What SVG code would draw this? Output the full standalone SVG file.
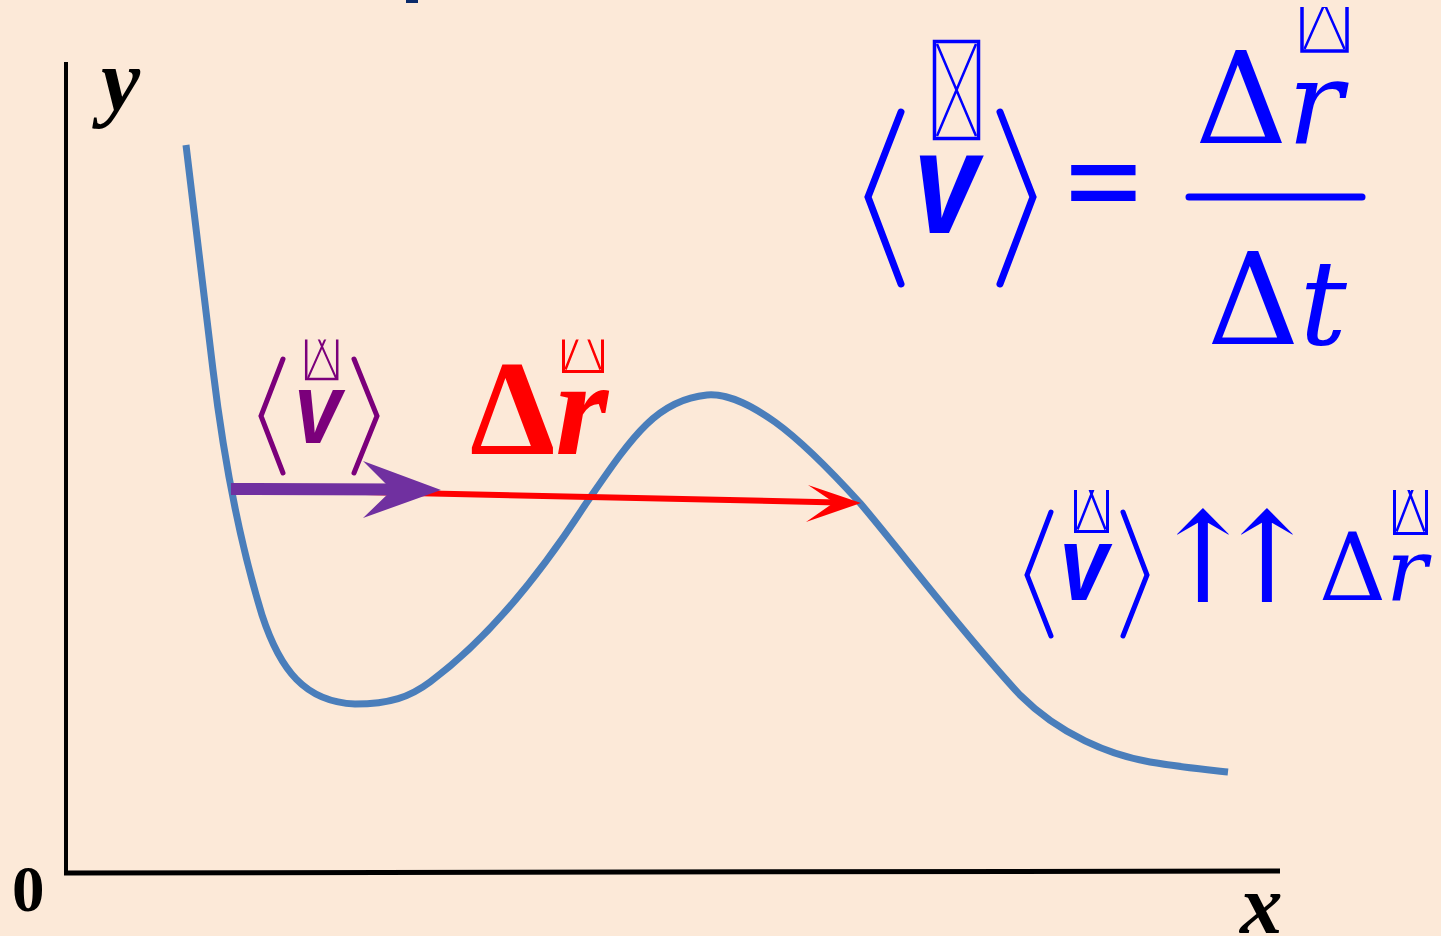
<svg xmlns="http://www.w3.org/2000/svg" width="1441" height="936" viewBox="0 0 1441 936">
<style>
.serif{font-family:"Liberation Serif",serif}
.math{font-family:"DejaVu Serif",serif}
.sans{font-family:"Liberation Sans",sans-serif}
.brk{fill:none;stroke-linecap:round;stroke-linejoin:miter}
.tofu{fill:none}
</style>
<defs>
<clipPath id="cpTop"><rect x="0" y="7" width="1441" height="929"/></clipPath>
<clipPath id="cpMid"><rect x="0" y="339.5" width="1441" height="600"/></clipPath>
<clipPath id="cpRight"><rect x="0" y="490" width="1441" height="446"/></clipPath>
</defs>
<rect width="1441" height="936" fill="#FCE9D8"/>
<rect x="406" y="0" width="12" height="3" fill="#0A2A6A"/>

<g id="axes" stroke="#000" fill="none">
<line x1="66" y1="62" x2="66" y2="874" stroke-width="4"/>
<line x1="64" y1="873" x2="1280" y2="871" stroke-width="5"/>
</g>
<g id="axis-labels" fill="#000">
<text class="serif" x="101" y="110" font-size="88" font-weight="bold" font-style="italic">y</text>
<text class="serif" x="12" y="911" font-size="65" font-weight="bold">0</text>
<text class="serif" x="1240" y="933" font-size="85" font-weight="bold" font-style="italic">x</text>
</g>

<g id="curve">
<path d="M186,145 L213,370 C222,445 236,530 262,615 C280,670 305,702 355,704 C390,704 410,697 430,682 C480,645 530,590 585,505 C630,440 655,400 707,395 C730,393 755,408 775,422 C800,440 830,470 860,503 C900,550 960,630 1020,695 C1060,735 1110,755 1150,762 C1180,767 1210,770 1228,772" fill="none" stroke="#4A7EBB" stroke-width="7"/>
</g>

<g id="connectors">
<g id="dr-arrow">
<line x1="232" y1="489" x2="838" y2="502.5" stroke="#FF0000" stroke-width="6"/>
<polygon points="861,503 808,485 834,502.5 806,522" fill="#FF0000"/>
</g>
<g id="v-arrow">
<line x1="231" y1="489" x2="400" y2="489.5" stroke="#7030A0" stroke-width="12"/>
<polygon points="441,490 363,461 392,490 363,518" fill="#7030A0"/>
</g>
</g>

<g id="label-v-purple">
<path class="brk" d="M283,359 L261,416 L283,473 M354,359 L377,416 L354,473" stroke="#7B007B" stroke-width="5"/>
<g clip-path="url(#cpMid)" stroke="#7B007B" class="tofu">
<rect x="306.2" y="313" width="31" height="66" stroke-width="2.5"/>
<path d="M308,315 L336,378 M336,315 L308,378" stroke-width="2"/>
</g>
<text class="sans" transform="translate(318,443) scale(0.85,1)" text-anchor="middle" font-size="100" font-weight="bold" font-style="italic" fill="#7B007B">v</text>
</g>

<g id="label-dr-red">
<g clip-path="url(#cpMid)" stroke="#FF0000" class="tofu">
<rect x="563.5" y="278.5" width="39" height="93" stroke-width="3"/>
<path d="M565.5,280.5 L600.5,369.5 M600.5,280.5 L565.5,369.5" stroke-width="2.5"/>
</g>
<text class="serif" x="470" y="454" font-size="136" font-weight="bold" fill="#FF0000">Δ<tspan font-style="italic">r</tspan></text>
</g>

<g id="formula-main" fill="#0000FF">
<path class="brk" d="M901,112 L868,197 L901,284 M1000,112 L1033,197 L1000,284" stroke="#0000FF" stroke-width="7"/>
<g stroke="#0000FF" class="tofu">
<rect x="934.5" y="41.5" width="44" height="97" stroke-width="3.5"/>
<path d="M937,44 L976,136 M976,44 L937,136" stroke-width="2.5"/>
</g>
<text class="sans" transform="translate(946,233) scale(0.8,1)" text-anchor="middle" font-size="146" font-weight="bold" font-style="italic">v</text>
<text class="sans" transform="translate(1101,214) scale(1.35,1)" text-anchor="middle" font-size="95" font-weight="bold" font-style="italic">=</text>
<line x1="1189" y1="197" x2="1362" y2="197" stroke="#0000FF" stroke-width="7" stroke-linecap="round"/>
<g clip-path="url(#cpTop)" stroke="#0000FF" class="tofu">
<rect x="1302" y="-43" width="45" height="94" stroke-width="3.5"/>
<path d="M1304.5,-41 L1344.5,49 M1344.5,-41 L1304.5,49" stroke-width="2.5"/>
</g>
<text class="math" x="1195" y="143" font-size="128">Δ<tspan font-style="italic" font-size="116">r</tspan></text>
<text class="math" x="1207" y="344" font-size="128">Δ<tspan font-style="italic" font-size="118">t</tspan></text>
</g>

<g id="formula-parallel" fill="#0000FF">
<path class="brk" d="M1051,512 L1027,575 L1051,636 M1123,512 L1147,575 L1123,636" stroke="#0000FF" stroke-width="5"/>
<g clip-path="url(#cpRight)" stroke="#0000FF" class="tofu">
<rect x="1075.5" y="456.5" width="32" height="75" stroke-width="3"/>
<path d="M1077.5,458.5 L1105.5,529.5 M1105.5,458.5 L1077.5,529.5" stroke-width="2.5"/>
<rect x="1394.5" y="456.5" width="32" height="77" stroke-width="3"/>
<path d="M1396.5,458.5 L1424.5,531.5 M1424.5,458.5 L1396.5,531.5" stroke-width="2.5"/>
</g>
<text class="sans" transform="translate(1084,600) scale(0.83,1)" text-anchor="middle" font-size="106" font-weight="bold" font-style="italic">v</text>
<text class="math" x="1150 1214" y="602" font-size="126">↑↑</text>
<text class="math" x="1319" y="600" font-size="93">Δ<tspan font-style="italic" font-size="86">r</tspan></text>
</g>
</svg>
